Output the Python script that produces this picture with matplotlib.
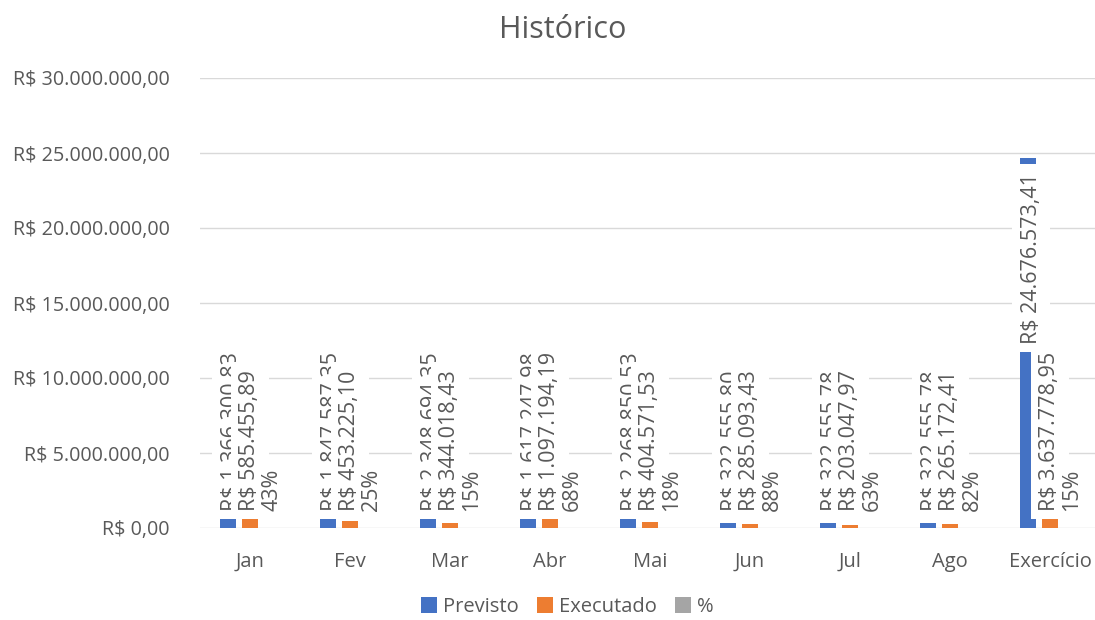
import matplotlib.pyplot as plt
import numpy as np

# dados do grafico
meses = ['Jan', 'Fev', 'Mar', 'Abr', 'Mai', 'Jun', 'Jul', 'Ago', 'Exercício']
previsto = [1366300.83, 1847587.35, 2348694.35, 1617247.98, 2268850.53,
            322555.80, 322555.78, 322555.78, 24676573.41]
executado = [585455.89, 453225.10, 344018.43, 1097194.19, 404571.53,
             285093.43, 203047.97, 265172.41, 3637778.95]
perc = [0.43, 0.25, 0.15, 0.68, 0.18, 0.88, 0.63, 0.82, 0.15]
yticks = [0, 5e6, 10e6, 15e6, 20e6, 25e6, 30e6]

plt.rcParams['font.family'] = ['Open Sans', 'DejaVu Sans']

azul = '#4472c4'
laranja = '#ed7d31'
cinza = '#a5a5a5'
txt = '#595959'


def brl(v):
    s = '{:,.2f}'.format(v)
    s = s.replace(',', 'X').replace('.', ',').replace('X', '.')
    return 'R$ ' + s


fig = plt.figure(figsize=(10.95, 6.2), dpi=100)
ax = fig.add_axes([200/1095, 92/620, 900/1095, 450/620])

x = np.arange(len(meses))
w = 0.16
d = 0.22
ax.bar(x - d, previsto, w, color=azul, label='Previsto', zorder=2)
ax.bar(x, executado, w, color=laranja, label='Executado', zorder=2)
ax.bar(x + d, perc, w, color=cinza, label='%', zorder=2)

# caixas brancas dos rotulos (como no Excel, cobrem parte das barras)
caixa_g = dict(facecolor='white', edgecolor='none', pad=6)
caixa_p = dict(facecolor='white', edgecolor='none', pad=2)
fs = 15.5
base = 1.13e6
for i in range(len(meses)):
    if previsto[i] > 20e6:
        ax.text(x[i] - d + 0.03, previsto[i] - 1.0e6, brl(previsto[i]), rotation=90,
                ha='center', va='top', fontsize=fs, color=txt, bbox=caixa_g, zorder=3)
    else:
        ax.text(x[i] - d + 0.03, base, brl(previsto[i]), rotation=90,
                ha='center', va='bottom', fontsize=fs, color=txt, bbox=caixa_g, zorder=3)
    ax.text(x[i], base, brl(executado[i]), rotation=90,
            ha='center', va='bottom', fontsize=fs, color=txt, bbox=caixa_g, zorder=4)
    ax.text(x[i] + d, base, '{:.0f}%'.format(perc[i]*100), rotation=90,
            ha='center', va='bottom', fontsize=fs, color=txt, bbox=caixa_p, zorder=5)

ax.set_ylim(0, 30e6)
ax.set_xlim(-0.5, 8.5)
ax.set_yticks(yticks)
ax.set_yticklabels([brl(v) for v in yticks])
ax.set_xticks(x)
ax.set_xticklabels(meses)
ax.tick_params(axis='both', length=0, colors=txt)
ax.tick_params(axis='y', pad=22, labelsize=14.2)
ax.tick_params(axis='x', pad=17, labelsize=14.5)
ax.grid(axis='y', color='#d9d9d9', linewidth=1, zorder=0)
for s in ax.spines.values():
    s.set_visible(False)

fig.text(563/1095, 1 - 30/620, 'Histórico', ha='center', va='center',
         fontsize=22, color=txt)
fig.legend(loc='center', bbox_to_anchor=(567/1095, 1 - 607/620), ncol=3,
           frameon=False, fontsize=14.5, handlelength=0.8, handleheight=0.8,
           handletextpad=0.3, columnspacing=0.9, labelcolor=txt)

fig.savefig('out.png', dpi=100)
